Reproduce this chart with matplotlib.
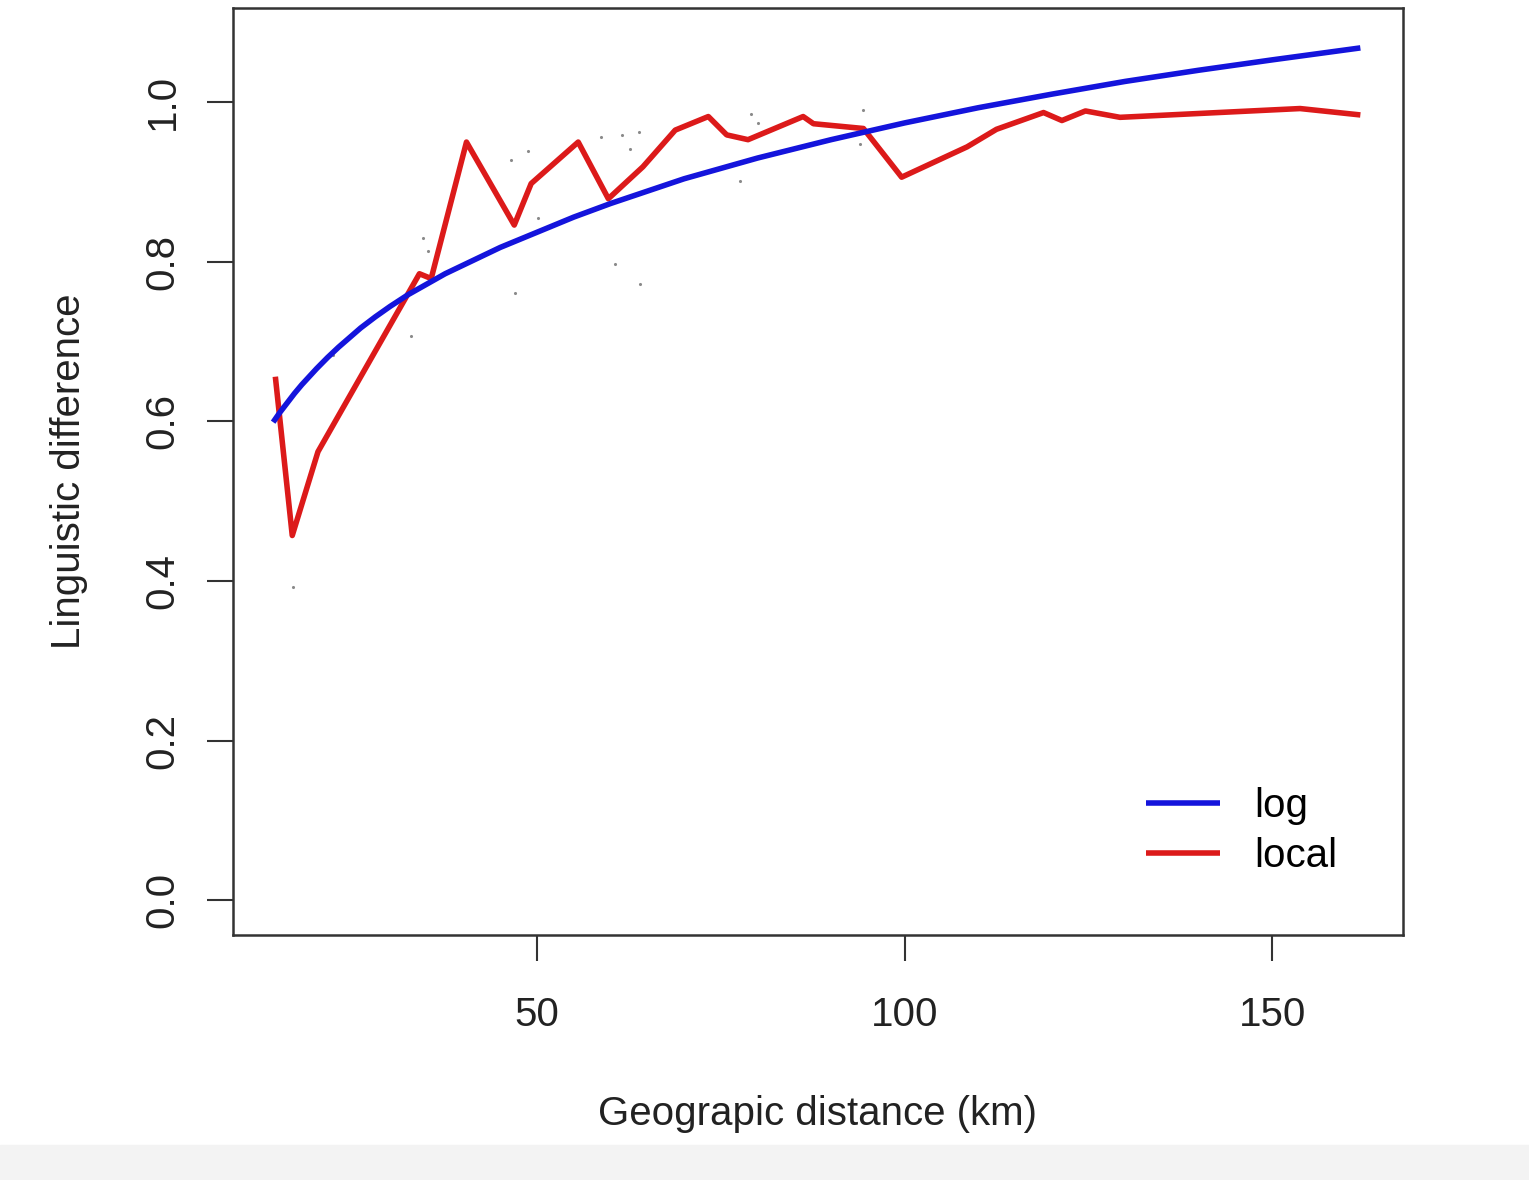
import matplotlib
matplotlib.use('Agg')
import matplotlib.pyplot as plt
from matplotlib.patches import Rectangle

# log fit curve
log_x = [14.1, 15, 16, 17, 18, 19, 20, 21.5, 23, 24.5, 26, 28, 30, 32.5, 35,
         37.5, 40, 42.5, 45, 50, 55, 60, 70, 80, 90, 100, 110, 120, 130, 140,
         150, 162]
log_y = [0.599, 0.611, 0.623, 0.635, 0.646, 0.656, 0.666, 0.680, 0.693, 0.705,
         0.717, 0.731, 0.744, 0.759, 0.772, 0.785, 0.796, 0.807, 0.818, 0.837,
         0.856, 0.873, 0.904, 0.930, 0.953, 0.974, 0.993, 1.010, 1.026, 1.040,
         1.053, 1.068]

# local curve
local_x = [14.4, 16.7, 20.2, 27.5, 34.0, 35.6, 40.4, 46.9, 49.2, 55.6, 59.7,
           64.4, 68.8, 73.3, 75.8, 78.7, 86.2, 87.6, 94.4, 99.6, 108.5, 112.5,
           118.9, 121.4, 124.6, 129.3, 153.8, 162.0]
local_y = [0.656, 0.457, 0.562, 0.680, 0.785, 0.779, 0.950, 0.846, 0.898,
           0.950, 0.879, 0.919, 0.965, 0.982, 0.959, 0.953, 0.982, 0.973,
           0.967, 0.906, 0.944, 0.966, 0.987, 0.977, 0.989, 0.981, 0.992,
           0.984]

# faint observed points
obs_x = [16.8, 22.2, 32.9, 34.5, 35.2, 46.5, 47.0, 48.8, 50.1, 58.7, 60.6,
         61.5, 62.6, 63.9, 64.0, 77.6, 79.1, 80.0, 93.9, 94.4]
obs_y = [0.393, 0.683, 0.707, 0.830, 0.814, 0.928, 0.761, 0.939, 0.855, 0.956,
         0.797, 0.959, 0.941, 0.962, 0.772, 0.901, 0.985, 0.974, 0.947, 0.990]

x_ticks = [50, 100, 150]
y_ticks = [0.0, 0.2, 0.4, 0.6, 0.8, 1.0]


def main():
    plt.rcParams['font.family'] = ['Liberation Sans', 'DejaVu Sans']
    fig = plt.figure(figsize=(15.29, 11.8), dpi=100)
    fig.patches.append(Rectangle((0, 0), 1, 35 / 1180., transform=fig.transFigure,
                                 color='#f3f3f3', zorder=-1))
    ax = fig.add_axes([233 / 1529., 1 - 935 / 1180., 1170 / 1529., 927 / 1180.])

    ax.scatter(obs_x, obs_y, s=5, color='#8a8a8a', linewidths=0, zorder=1)
    ax.plot(log_x, log_y, color='#1414dc', lw=4, label='log', zorder=3,
            solid_capstyle='butt', solid_joinstyle='round')
    ax.plot(local_x, local_y, color='#dc1a1a', lw=4, label='local', zorder=2,
            solid_capstyle='butt')

    ax.set_xlim(8.64, 167.8)
    ax.set_ylim(-0.0436, 1.118)
    ax.set_xticks(x_ticks)
    ax.set_xticklabels([str(t) for t in x_ticks])
    ax.set_yticks(y_ticks)
    ax.set_yticklabels(['%.1f' % t for t in y_ticks], rotation=90, va='center')

    for side in ax.spines.values():
        side.set_linewidth(1.8)
        side.set_color('#333333')
    ax.tick_params(axis='both', length=19, width=1.5, color='#333333',
                   labelsize=29, labelcolor='#222222')
    ax.tick_params(axis='x', pad=25)
    ax.tick_params(axis='y', pad=18)

    ax.set_xlabel('Geograpic distance (km)', fontsize=29, color='#222222',
                  labelpad=44)
    ax.set_ylabel('Linguistic difference', fontsize=29, color='#222222',
                  labelpad=40)

    ax.legend(loc='lower left', bbox_to_anchor=(0.749, 0.026), frameon=False,
              fontsize=29, handlelength=1.85, handletextpad=0.85,
              labelspacing=0.28)

    fig.savefig('out.png', dpi=100)


if __name__ == "__main__":
    main()
